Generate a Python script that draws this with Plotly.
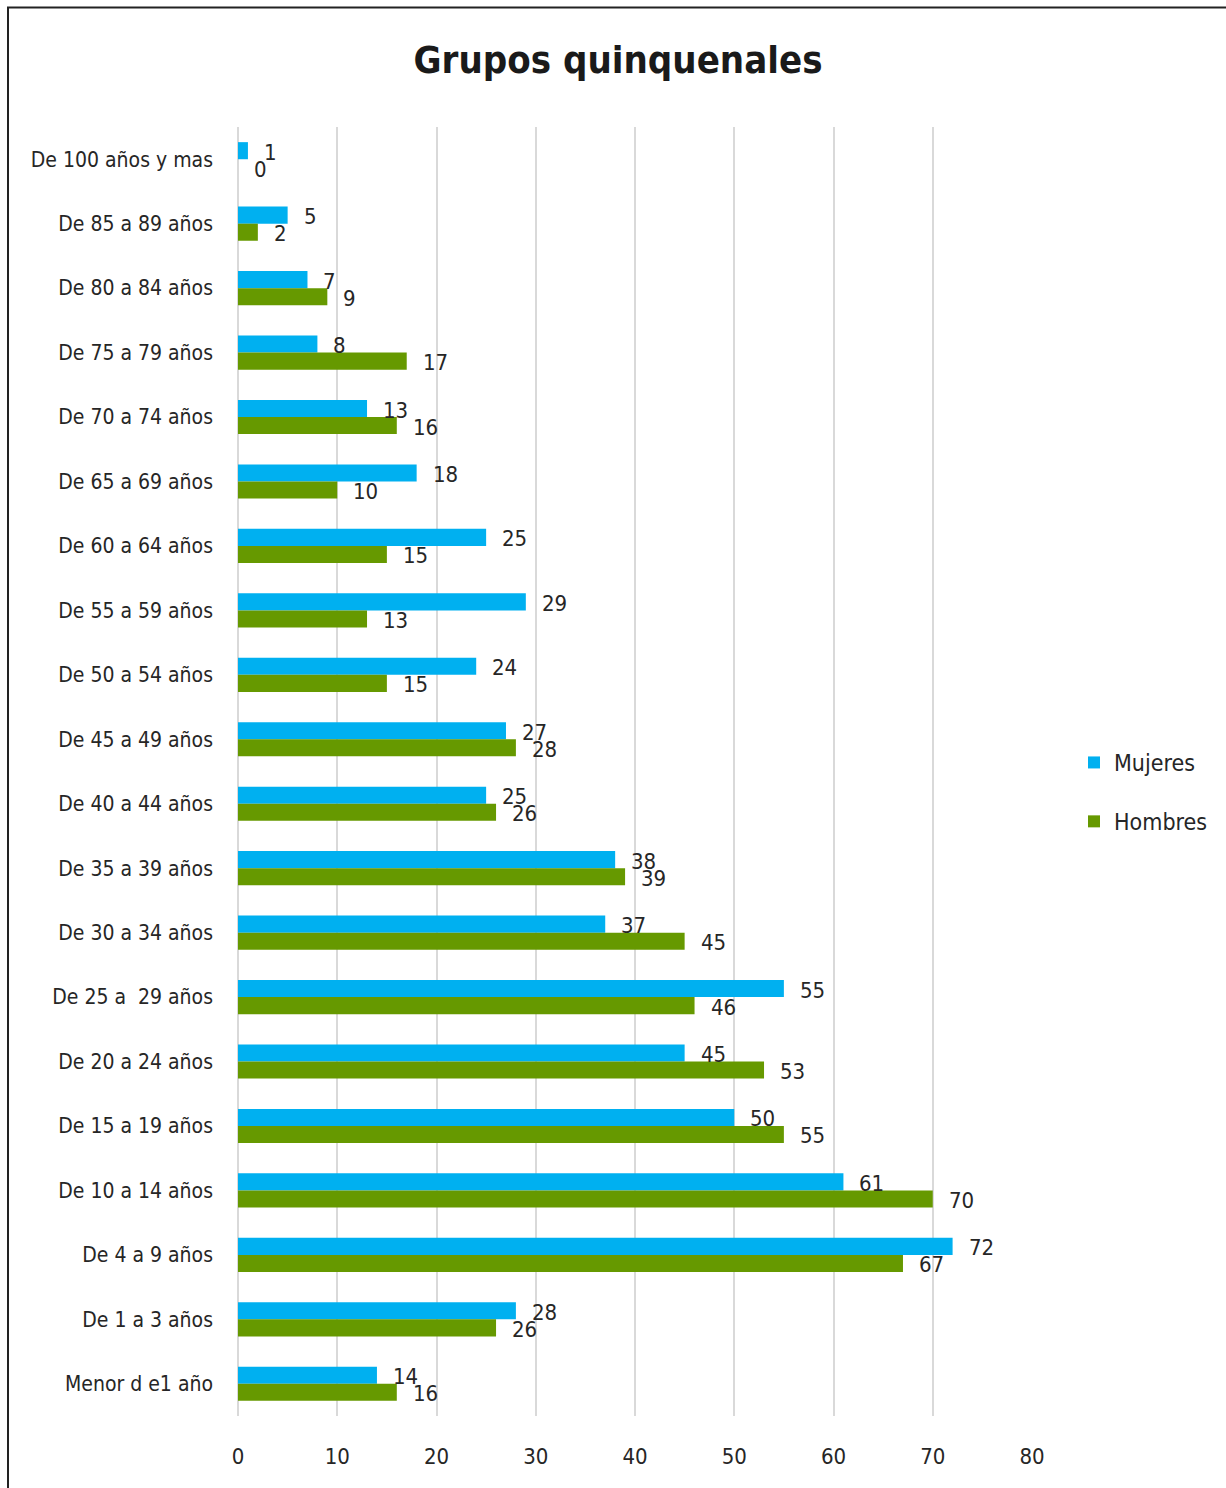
import plotly.graph_objects as go

categories = ["De 100 años y mas", "De 85 a 89 años", "De 80 a 84 años", "De 75 a 79 años",
              "De 70 a 74 años", "De 65 a 69 años", "De 60 a 64 años", "De 55 a 59 años",
              "De 50 a 54 años", "De 45 a 49 años", "De 40 a 44 años", "De 35 a 39 años",
              "De 30 a 34 años", "De 25 a  29 años", "De 20 a 24 años", "De 15 a 19 años",
              "De 10 a 14 años", "De 4 a 9 años", "De 1 a 3 años", "Menor d e1 año"]
mujeres = [1, 5, 7, 8, 13, 18, 25, 29, 24, 27, 25, 38, 37, 55, 45, 50, 61, 72, 28, 14]
hombres = [0, 2, 9, 17, 16, 10, 15, 13, 15, 28, 26, 39, 45, 46, 53, 55, 70, 67, 26, 16]
x_ticks = [0, 10, 20, 30, 40, 50, 60, 70, 80]

BLUE = "#00B0F0"
GREEN = "#669900"
TXT = "#262626"
FONT = "Liberation Sans Narrow, DejaVu Sans Condensed, Roboto Condensed, Roboto, sans-serif"

W, H = 1226, 1488
ML = 238
MR = 1226 - 1032
MT = 127
MB = 1488 - 1416

pw = W - ML - MR
ph = H - MT - MB

def px_x(px):
    return (px - ML) / pw

def px_y(py):
    return (H - MB - py) / ph

fig = go.Figure()
fig.add_trace(go.Bar(y=categories, x=mujeres, name="Mujeres", orientation="h",
                     marker=dict(color=BLUE, line=dict(width=0)), legendgroup="m"))
fig.add_trace(go.Bar(y=categories, x=hombres, name="Hombres", orientation="h",
                     marker=dict(color=GREEN, line=dict(width=0)), legendgroup="h"))

annotations = []
for c, v in zip(categories, mujeres):
    annotations.append(dict(x=v, y=c, text=str(v), xref="x", yref="y", showarrow=False,
                            xanchor="left", yanchor="middle", xshift=14, yshift=7,
                            font=dict(family=FONT, size=22, color=TXT)))
for c, v in zip(categories, hombres):
    annotations.append(dict(x=v, y=c, text=str(v), xref="x", yref="y", showarrow=False,
                            xanchor="left", yanchor="middle", xshift=14, yshift=-10,
                            font=dict(family=FONT, size=22, color=TXT)))

fig.add_shape(type="rect", xref="paper", yref="paper",
              x0=px_x(8), x1=px_x(1260),
              y0=px_y(1520), y1=px_y(7.5),
              line=dict(color="#222222", width=2), fillcolor="rgba(0,0,0,0)", layer="below")

fig.update_layout(
    width=W, height=H,
    margin=dict(l=ML, r=MR, t=MT, b=MB),
    paper_bgcolor="white", plot_bgcolor="white",
    barmode="group", bargap=0.47, bargroupgap=0,
    title=dict(text="<b>Grupos quinquenales</b>", x=618 / W, xref="container", xanchor="center",
               y=1 - 60 / H, yref="container", yanchor="middle",
               font=dict(family=FONT, size=38, color="#1a1a1a")),
    annotations=annotations,
    showlegend=True,
    legend=dict(x=px_x(1074), xanchor="left", y=px_y(792), yanchor="middle",
                font=dict(family=FONT, size=23, color=TXT), tracegroupgap=26,
                itemwidth=30, bgcolor="rgba(0,0,0,0)"),
    xaxis=dict(range=[0, 80], tickvals=x_ticks, ticktext=[str(t) for t in x_ticks],
               showgrid=True, gridcolor="#d9d9d9", gridwidth=2,
               zeroline=True, zerolinecolor="#d9d9d9", zerolinewidth=2,
               showline=False, ticks="", ticklabelstandoff=25,
               tickfont=dict(family=FONT, size=22, color=TXT), fixedrange=True),
    yaxis=dict(type="category", categoryorder="array", categoryarray=categories,
               autorange="reversed", showgrid=False, zeroline=False, showline=False,
               ticks="", ticklabelstandoff=24,
               tickfont=dict(family=FONT, size=21, color=TXT)),
)

fig.write_html("out.html", config={"displayModeBar": False},
               post_script="document.body.style.margin='0';document.body.style.overflow='hidden';")
